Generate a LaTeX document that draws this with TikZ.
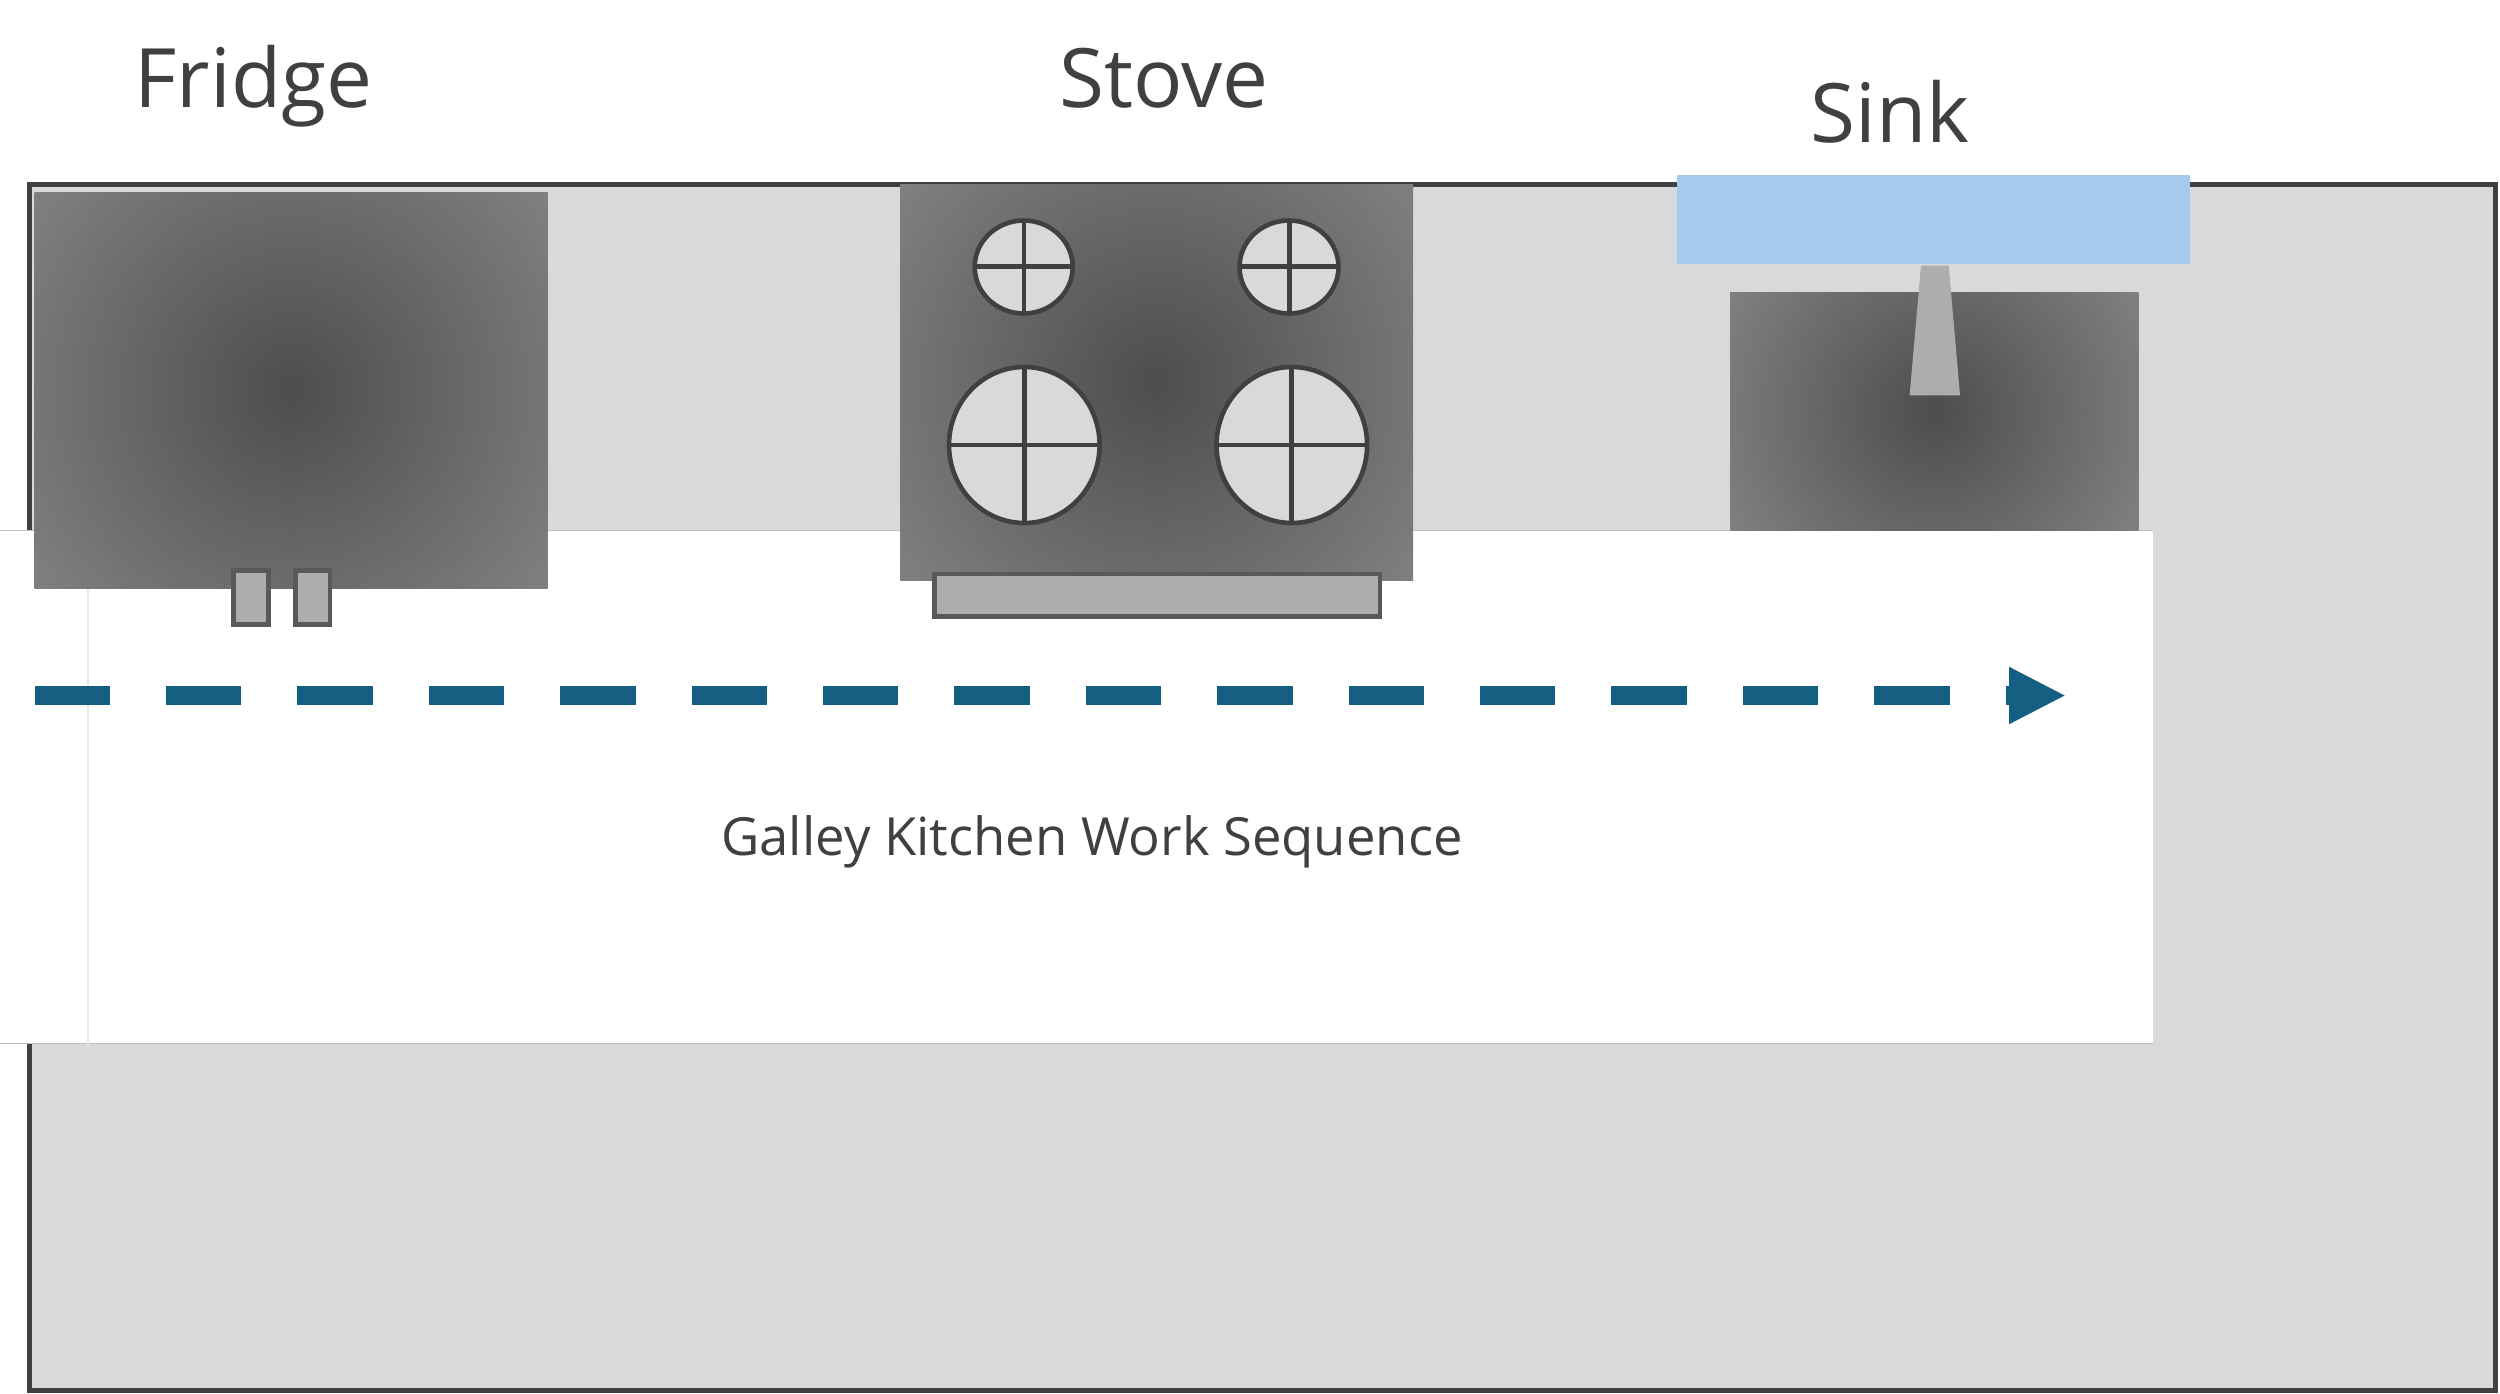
\documentclass[tikz,border=0pt]{standalone}
\usepackage{fontspec}
\setmainfont{Open Sans}
\usetikzlibrary{arrows.meta}
\definecolor{floorgray}{HTML}{D9D9D9}
\definecolor{wallgray}{HTML}{404040}
\definecolor{partgray}{HTML}{ADADAD}
\definecolor{partedge}{HTML}{595959}
\definecolor{flowblue}{HTML}{156082}
\definecolor{waterblue}{HTML}{A6CAEC}
\definecolor{applcenter}{HTML}{4D4D4D}
\definecolor{applcorner}{HTML}{808080}
\pgfdeclareradialshading{appliance}{\pgfpoint{0bp}{0bp}}{color(0bp)=(applcenter); color(25bp)=(applcorner); color(50bp)=(applcorner)}
\tikzset{
  px/.style={x=0.5pt,y=-0.5pt},
  applianceshape/.style={shading=appliance},
  handleshape/.style={fill=partgray,draw=partedge,line width=2.3pt},
  burner/.style={fill=floorgray,draw=wallgray,line width=2.3pt},
  burnerline/.style={draw=wallgray,line width=2.3pt},
  titletext/.style={text=wallgray,font=\fontsize{41}{49}\selectfont,inner sep=0pt,anchor=base},
  worktext/.style={text=wallgray,font=\fontsize{26.3}{32}\selectfont,inner sep=0pt,anchor=base},
  flow/.style={draw=flowblue,line width=9.75pt,dash pattern=on 37.75pt off 27.95pt,-{Triangle[length=28.5pt,width=26.5pt,fill=flowblue]}}
}
\begin{document}
\begin{tikzpicture}[px]
\useasboundingbox (0,0) rectangle (2500,1393);
% floor and wall outline
\draw[fill=floorgray,draw=wallgray,line width=2.5pt] (29.5,184.5) rectangle (2495.5,1390.5);
% work aisle
\fill[white] (0,530.4) rectangle (2153,1043.5);
\draw[draw=black!25,line width=0.7pt] (0,530.4) -- (2153,530.4);
\draw[draw=black!25,line width=0.5pt] (0,1043.5) -- (88,1043.5);
\draw[draw=black!25,line width=0.7pt] (88,1043.5) -- (2153,1043.5);
\draw[draw=black!9,line width=0.6pt] (88,588) -- (88,1043.5);
% fridge
\begin{scope}
\clip (34.5,192.5) rectangle (547.6,588);
\path[applianceshape] (-32.85,66.35) rectangle (614.95,714.15);
\end{scope}
\draw[handleshape] (233.5,570.5) rectangle (268.5,624.5);
\draw[handleshape] (295.5,570.5) rectangle (330,624.5);
% stove
\begin{scope}
\clip (900.4,184) rectangle (1413,580.7);
\path[applianceshape] (832.6,58.25) rectangle (1480.8,706.45);
\end{scope}
\draw[burner] (1023.7,267) ellipse [x radius=49,y radius=46.5];
\draw[burnerline] (1024,220.5) -- (1024,313.5) (974.7,266.7) -- (1072.7,266.7);
\draw[burner] (1289,267) ellipse [x radius=49.5,y radius=46.5];
\draw[burnerline] (1289.3,220.5) -- (1289.3,313.5) (1239.5,266.7) -- (1338.5,266.7);
\draw[burner] (1024.3,445) ellipse [x radius=75.3,y radius=78];
\draw[burnerline] (1024.3,367) -- (1024.3,523) (949,445) -- (1099.6,445);
\draw[burner] (1291.8,445) ellipse [x radius=75.3,y radius=78];
\draw[burnerline] (1291.4,367) -- (1291.4,523) (1216.5,445) -- (1367.1,445);
\draw[handleshape] (934.7,573.9) rectangle (1379.8,616.5);
% sink
\begin{scope}
\clip (1730,292) rectangle (2138.4,530.4);
\path[applianceshape] (1697.8,174.8) rectangle (2170.6,647.6);
\end{scope}
\fill[waterblue] (1677,175) rectangle (2190,263.7);
\fill[partgray] (1921,265.6) -- (1948.7,265.6) -- (1960,395.3) -- (1909.6,395.3) -- cycle;
% work sequence arrow
\coordinate (flowstart) at (34.5,695.5);
\coordinate (flowend) at (2066,695.5);
\draw[flow] (flowstart) -- (flowend);
% labels
\node[titletext] (fridge) at (253.5,107.5) {Fridge};
\node[titletext] (stove) at (1164,107.5) {Stove};
\node[titletext] (sink) at (1890,142.5) {Sink};
\node[worktext] (sequence) at (1092,855) {Galley Kitchen Work Sequence};
\end{tikzpicture}
\end{document}
